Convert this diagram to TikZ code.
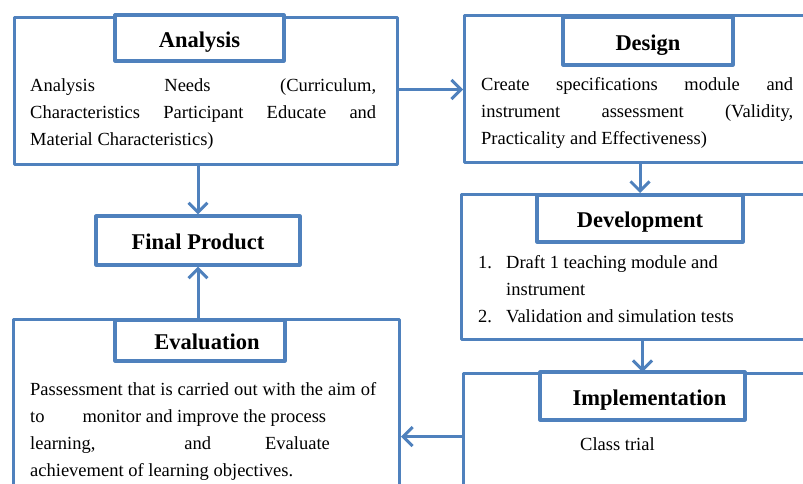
\documentclass[tikz,border=0pt]{standalone}
\usepackage{fontspec}
\setmainfont{Liberation Serif}
\usetikzlibrary{arrows.meta}
\definecolor{frameblue}{RGB}{79,129,189}
\begin{document}
\begin{tikzpicture}[x=1pt, y=-1pt,
  frame/.style={draw=frameblue, line width=3pt, line join=round, inner sep=0pt, anchor=north west},
  titlebox/.style={draw=frameblue, line width=3.2pt, line join=round, fill=white, inner sep=0pt,
    text height=18pt, text depth=0pt, font=\fontsize{22.5}{26}\selectfont\bfseries},
  bodytext/.style={inner sep=0pt, anchor=north west, font=\fontsize{18.5}{27}\selectfont},
  flow/.style={draw=frameblue, line width=3pt, -{Straight Barb[length=9.5pt, width=19pt]}}]
\useasboundingbox (0,0) rectangle (803,483);
\clip (0,0) rectangle (803,483);
% Analysis
\node[frame, minimum width=383pt, minimum height=147pt] (analysis) at (13,16) {};
\node[titlebox, minimum width=169pt, minimum height=46pt] (analysisT) at (199.5,38) {Analysis};
\node[bodytext, text width=346pt, align=justify] (analysisTxt) at (30,78)
  {Analysis Needs (Curriculum,\linebreak Characteristics Participant Educate and\linebreak Material Characteristics)};
% Design
\node[frame, minimum width=450pt, minimum height=147pt] (design) at (463,14) {};
\node[titlebox, minimum width=170pt, minimum height=48pt] (designT) at (648,41) {Design};
\node[bodytext, text width=312pt, align=justify] (designTxt) at (481,77)
  {Create specifications module and\linebreak instrument assessment (Validity,\linebreak Practicality and Effectiveness)};
% Development
\node[frame, minimum width=450pt, minimum height=145pt] (development) at (460,193) {};
\node[titlebox, minimum width=206pt, minimum height=47pt] (developmentT) at (640,218.5) {Development};
\node[bodytext, align=left] (developmentTxt) at (478,255.5)
  {\makebox[28pt][l]{1.}Draft 1 teaching module and\\ \hspace*{28pt}instrument\\ \makebox[28pt][l]{2.}Validation and simulation tests};
% Implementation
\node[frame, minimum width=450pt, minimum height=200pt] (implementation) at (462,372) {};
\node[titlebox, minimum width=205pt, minimum height=48pt] (implementationT) at (642.5,396) {\hspace*{14pt}Implementation};
\node[bodytext] (implementationTxt) at (580,437) {Class trial};
% Evaluation
\node[frame, minimum width=386pt, minimum height=234pt] (evaluation) at (12,318) {};
\node[titlebox, minimum width=170pt, minimum height=41pt] (evaluationT) at (200,340.5) {\hspace*{14pt}Evaluation};
\node[bodytext, text width=346pt, align=justify] (evaluationTxt) at (30,382)
  {Passessment that is carried out with the aim of\linebreak to\hspace{38pt}monitor and improve the process\\ learning,\hspace{89pt}and\hspace{54pt}Evaluate\\ achievement of learning objectives.};
% Final product
\node[titlebox, minimum width=204pt, minimum height=49pt] (final) at (198,240.5) {Final Product};
% connectors
\draw[flow] (analysis.east) ++(0,-1.5) coordinate (a2d) -- (a2d -| design.west);
\draw[flow] (analysis.south -| final.north) -- (final.north);
\draw[flow] (evaluation.north -| final.south) -- (final.south);
\draw[flow] (design.south -| developmentT.north) -- (development.north -| developmentT.north);
\draw[flow] (development.south -| implementationT.north) -- (implementation.north -| implementationT.north);
\draw[flow] (implementation.west |- evaluation.east) -- (evaluation.east);
\end{tikzpicture}
\end{document}
